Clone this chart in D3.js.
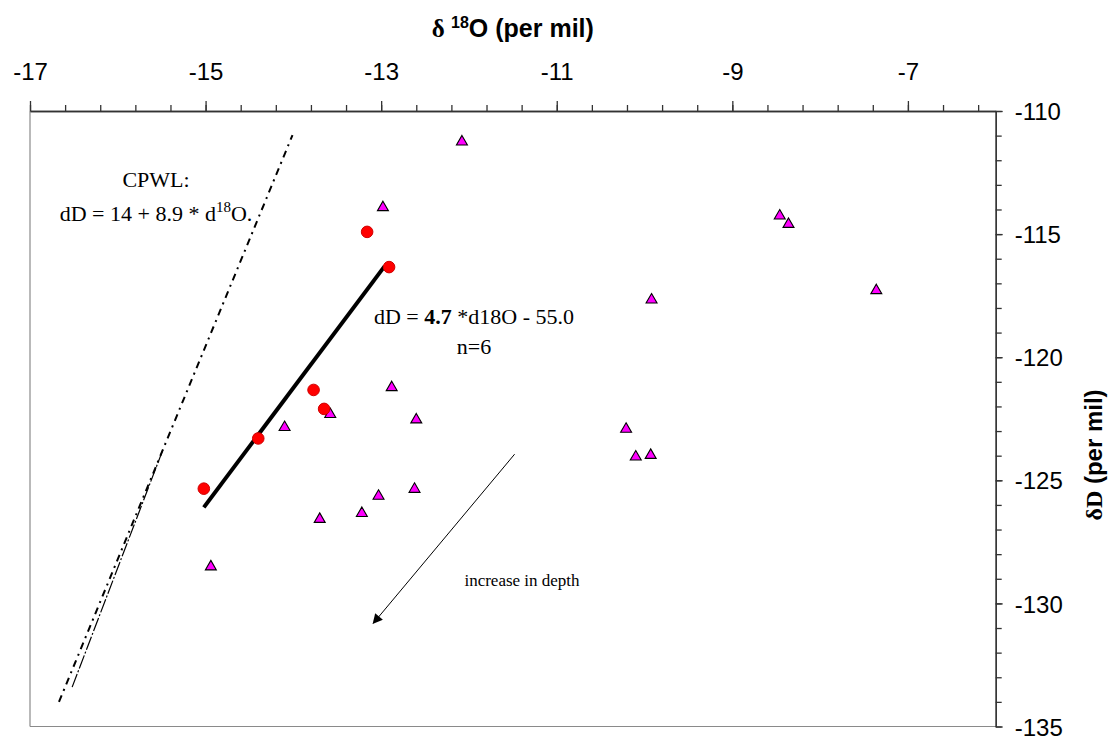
<!DOCTYPE html>
<html><head><meta charset="utf-8">
<script src="https://cdn.jsdelivr.net/npm/d3@7"></script>
<style>body{margin:0;background:#fff}svg{display:block}</style>
</head><body>
<svg id="c" width="1112" height="736"></svg>
<script>
// ---- data ----
const triO18 = [-12.08,-12.98,-8.46,-8.36,-7.36,-9.92,-12.88,-13.58,-12.60,-14.10,-10.21,-10.10,-9.93,-12.62,-13.03,-13.22,-13.70,-14.94];
const triD   = [-111.25,-113.92,-114.26,-114.60,-117.29,-117.67,-121.23,-122.32,-122.54,-122.85,-122.92,-124.05,-123.98,-125.36,-125.64,-126.34,-126.58,-128.51];
const circO18 = [-13.16,-12.91,-13.77,-13.65,-14.40,-15.02];
const circD   = [-114.91,-116.34,-121.33,-122.10,-123.30,-125.34];
const fitO18 = [-15.02,-12.96];
const fitD   = [-126.1,-116.3];
const cpwlO18 = [-16.67,-14.01];
const cpwlD   = [-134.0,-110.98];
const cpwl2O18 = [-16.52,-15.48];
const cpwl2D   = [-133.4,-123.7];
const arrowO18 = [-11.48,-13.09];
const arrowD   = [-123.94,-130.81];
const xTickLabels = [-17,-15,-13,-11,-9,-7];
const yTickLabels = [-110,-115,-120,-125,-130,-135];

// ---- scales ----
const x = d3.scaleLinear().domain([-17,-6]).range([30,995.7]);
const y = d3.scaleLinear().domain([-110,-135]).range([111,726.5]);
const svg = d3.select('#c');
const sans = 'Liberation Sans, Arial, sans-serif';
const serif = 'Liberation Serif, Times New Roman, serif';
const fmt = d => String(d);

// plot border (left & bottom)
svg.append('line').attr('x1',x(-17)).attr('x2',x(-17)).attr('y1',y(-110)).attr('y2',y(-135)).attr('stroke','#8a8a8a').attr('stroke-width',1.2);
svg.append('line').attr('x1',x(-17)).attr('x2',x(-6)).attr('y1',y(-135)).attr('y2',y(-135)).attr('stroke','#8a8a8a').attr('stroke-width',1.2);

// top axis
const minorX = d3.range(0,28).map(i=>-17+i*0.4);
svg.append('g').attr('transform',`translate(0,${y(-110)})`)
  .call(d3.axisTop(x).tickValues(minorX).tickSize(6).tickSizeOuter(0).tickFormat(''));
const gx = svg.append('g').attr('transform',`translate(0,${y(-110)})`)
  .call(d3.axisTop(x).tickValues(xTickLabels).tickSize(10).tickSizeOuter(0).tickPadding(21).tickFormat(fmt));
// right axis
const minorY = d3.range(0,26).map(i=>-110-i);
svg.append('g').attr('transform',`translate(${x(-6)},0)`)
  .call(d3.axisRight(y).tickValues(minorY).tickSize(6).tickSizeOuter(0).tickFormat(''));
const gy = svg.append('g').attr('transform',`translate(${x(-6)},0)`)
  .call(d3.axisRight(y).tickValues(yTickLabels).tickSize(7).tickSizeOuter(0).tickPadding(12).tickFormat(fmt));
svg.selectAll('.domain, .tick line').attr('stroke','#333').attr('stroke-width',1.3);
svg.selectAll('.tick text').attr('font-family',sans).attr('font-size',24).attr('fill','#000');
gx.selectAll('.tick text').attr('dy','0');
gy.selectAll('.tick text').attr('dy','0.36em');

// axis titles
const t = svg.append('text').attr('x',(x(-17)+x(-6))/2).attr('y',37).attr('text-anchor','middle')
  .attr('font-family',sans).attr('font-weight','bold').attr('font-size',25);
t.append('tspan').attr('font-family',serif).text('δ ');
t.append('tspan').attr('font-size',16).attr('dy',-9).text('18');
t.append('tspan').attr('dy',9).text('O (per mil)');
svg.append('text').attr('transform',`translate(1102,455) rotate(-90)`).attr('text-anchor','middle')
  .attr('font-family',sans).attr('font-weight','bold').attr('font-size',24)
  .call(s=>{s.append('tspan').attr('font-family',serif).text('δD'); s.append('tspan').text(' (per mil)');});

// CPWL lines
const line = d3.line().x(d=>x(d[0])).y(d=>y(d[1]));
svg.append('path').attr('d',line(d3.zip(cpwl2O18,cpwl2D))).attr('fill','none').attr('stroke','#000').attr('stroke-width',1.2).attr('stroke-dasharray','14,2,2,2');
svg.append('path').attr('d',line(d3.zip(cpwlO18,cpwlD))).attr('fill','none').attr('stroke','#000').attr('stroke-width',2).attr('stroke-dasharray','7,5,2,5');

// regression line
svg.append('path').attr('d',line(d3.zip(fitO18,fitD))).attr('fill','none').attr('stroke','#000').attr('stroke-width',4);

// markers
const tri = d3.symbol().type(d3.symbolTriangle).size(52);
svg.append('g').selectAll('path').data(d3.zip(triO18,triD)).join('path')
  .attr('d',tri).attr('transform',d=>`translate(${x(d[0])},${y(d[1])})`)
  .attr('fill','#ff00ff').attr('stroke','#000').attr('stroke-width',1.1);
svg.append('g').selectAll('circle').data(d3.zip(circO18,circD)).join('circle')
  .attr('cx',d=>x(d[0])).attr('cy',d=>y(d[1])).attr('r',5.8)
  .attr('fill','#ff0000').attr('stroke','#d00000').attr('stroke-width',1);

// arrow
const defs = svg.append('defs');
defs.append('marker').attr('id','ah').attr('viewBox','0 0 10 10').attr('refX',9).attr('refY',5)
  .attr('markerWidth',14).attr('markerHeight',10).attr('markerUnits','userSpaceOnUse').attr('orient','auto')
  .append('path').attr('d','M0,0 L10,5 L0,10 Z').attr('fill','#000');
svg.append('path').attr('d',line(d3.zip(arrowO18,arrowD))).attr('stroke','#000').attr('stroke-width',1).attr('fill','none').attr('marker-end','url(#ah)');

// annotations
svg.append('text').attr('x',156).attr('y',187).attr('text-anchor','middle').attr('font-family',serif).attr('font-size',22).text('CPWL:');
const c2 = svg.append('text').attr('x',156).attr('y',221).attr('text-anchor','middle').attr('font-family',serif).attr('font-size',22);
c2.append('tspan').text('dD = 14 + 8.9 * d');
c2.append('tspan').attr('font-size',15).attr('dy',-9).text('18');
c2.append('tspan').attr('dy',9).text('O.');
const r1 = svg.append('text').attr('x',474).attr('y',324).attr('text-anchor','middle').attr('font-family',serif).attr('font-size',22);
r1.append('tspan').text('dD = ');
r1.append('tspan').attr('font-weight','bold').text('4.7');
r1.append('tspan').text(' *d18O - 55.0');
svg.append('text').attr('x',474).attr('y',354).attr('text-anchor','middle').attr('font-family',serif).attr('font-size',22).text('n=6');
svg.append('text').attr('x',522).attr('y',586).attr('text-anchor','middle').attr('font-family',serif).attr('font-size',17).text('increase in depth');
</script>
</body></html>
